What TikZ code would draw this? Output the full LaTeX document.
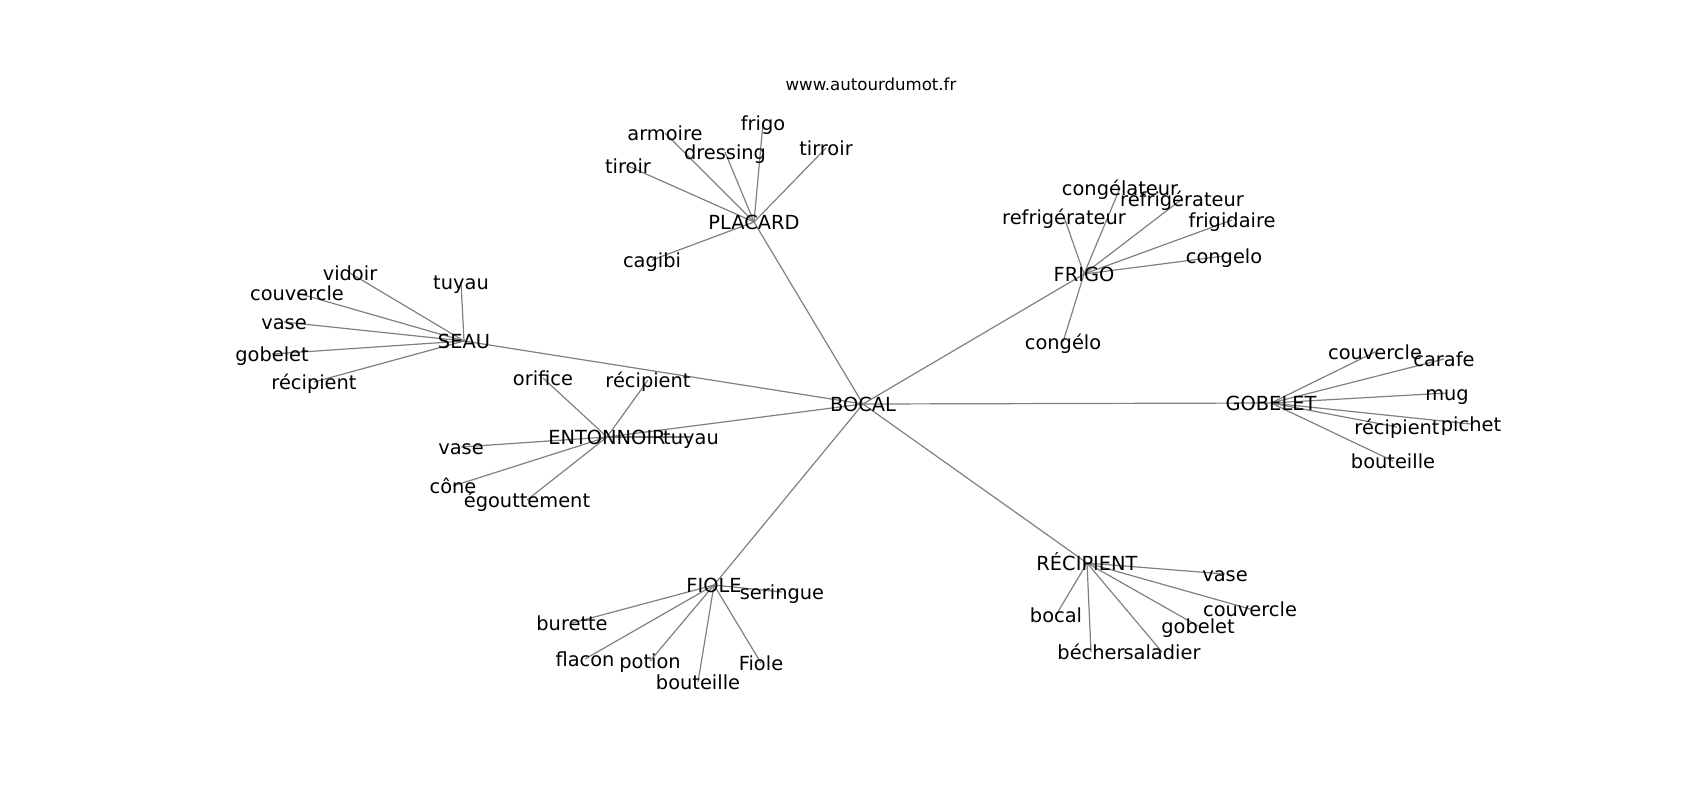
\documentclass[tikz,border=0pt]{standalone}
\usepackage{fontspec}
\setmainfont{DejaVu Sans}
\usetikzlibrary{backgrounds}
\begin{document}
\begin{tikzpicture}[
            x=0.5pt, y=-0.5pt,
            every node/.style={inner sep=0pt, text height=0.84em, text depth=0.13em,
                font=\fontsize{9.7}{11}\selectfont},
            titletext/.style={font=\fontsize{8.3}{10}\selectfont},
            edge/.style={draw=gray, line width=0.6pt}
            ]
            \useasboundingbox (0,0) rectangle (1700,800);
            \node[titletext] (title) at (871,83) {www.autourdumot.fr};

            \node (bocal) at (863,404) {BOCAL};

            \node (placard) at (754,222) {PLACARD};
            \node (placard-1) at (665,133) {armoire};
            \node (placard-2) at (763,123) {frigo};
            \node (placard-3) at (725,152) {dressing};
            \node (placard-4) at (628,166) {tiroir};
            \node (placard-5) at (826,148) {tirroir};
            \node (placard-6) at (652,260) {cagibi};

            \node (frigo) at (1084,274) {FRIGO};
            \node (frigo-1) at (1120,188) {congélateur};
            \node (frigo-2) at (1064,217) {refrigérateur};
            \node (frigo-3) at (1182,199) {réfrigérateur};
            \node (frigo-4) at (1232,220) {frigidaire};
            \node (frigo-5) at (1224,256) {congelo};
            \node (frigo-6) at (1063,342) {congélo};

            \node (seau) at (464,341) {SEAU};
            \node (seau-1) at (350,273) {vidoir};
            \node (seau-2) at (461,282) {tuyau};
            \node (seau-3) at (297,293) {couvercle};
            \node (seau-4) at (284,322) {vase};
            \node (seau-5) at (272,354) {gobelet};
            \node (seau-6) at (314,382) {récipient};

            \node (entonnoir) at (607,437) {ENTONNOIR};
            \node (entonnoir-1) at (543,378) {orifice};
            \node (entonnoir-2) at (648,380) {récipient};
            \node (entonnoir-3) at (461,447) {vase};
            \node (entonnoir-4) at (453,486) {cône};
            \node (entonnoir-5) at (527,500) {égouttement};
            \node (entonnoir-6) at (691,437) {tuyau};

            \node (gobelet) at (1271,403) {GOBELET};
            \node (gobelet-1) at (1375,352) {couvercle};
            \node (gobelet-2) at (1444,359) {carafe};
            \node (gobelet-3) at (1447,393) {mug};
            \node (gobelet-4) at (1471,424) {pichet};
            \node (gobelet-5) at (1397,427) {récipient};
            \node (gobelet-6) at (1393,461) {bouteille};

            \node (recipient) at (1087,563) {RÉCIPIENT};
            \node (recipient-1) at (1225,574) {vase};
            \node (recipient-2) at (1250,609) {couvercle};
            \node (recipient-3) at (1198,626) {gobelet};
            \node (recipient-4) at (1056,615) {bocal};
            \node (recipient-5) at (1091,652) {bécher};
            \node (recipient-6) at (1162,652) {saladier};

            \node (fiole) at (714,585) {FIOLE};
            \node (fiole-1) at (782,592) {seringue};
            \node (fiole-2) at (572,623) {burette};
            \node (fiole-3) at (585,659) {flacon};
            \node (fiole-4) at (650,661) {potion};
            \node (fiole-5) at (698,682) {bouteille};
            \node (fiole-6) at (761,663) {Fiole};

            \begin{pgfonlayer}{background}
                \foreach \n in {placard,frigo,seau,entonnoir,gobelet,recipient,fiole}{
                    \draw[edge] (bocal.center) -- (\n.center);
                    \foreach \x in {1,...,6}{
                        \draw[edge] (\n.center) -- (\n-\x.center);
                    }
                }
            \end{pgfonlayer}
        \end{tikzpicture}
\end{document}
